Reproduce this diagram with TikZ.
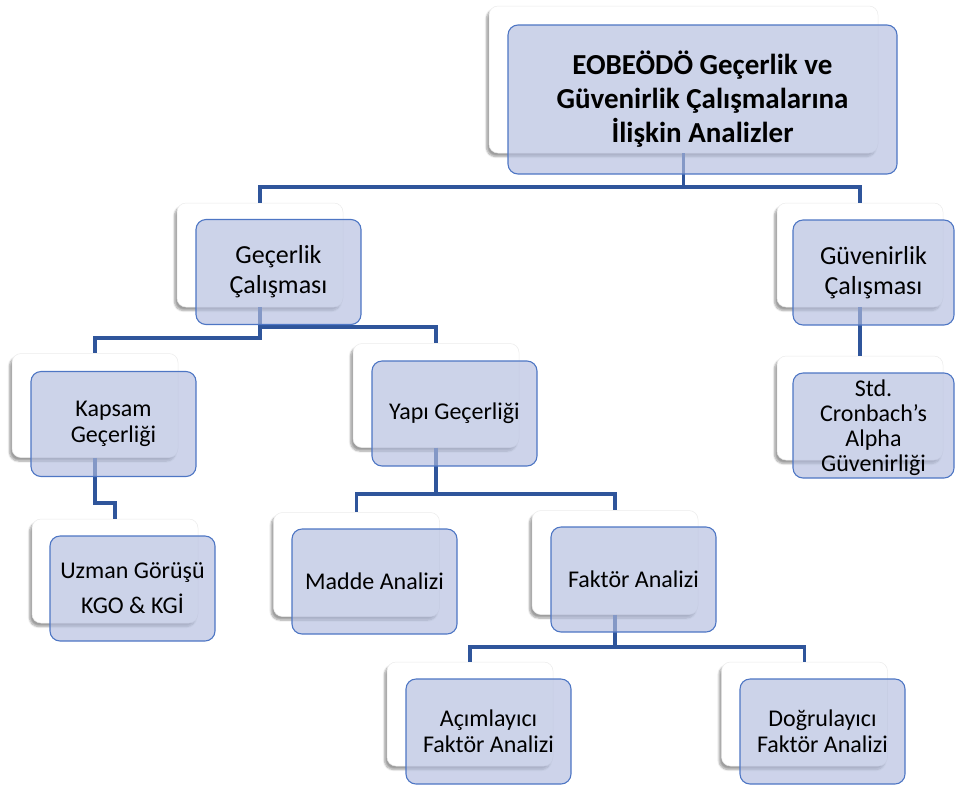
\documentclass[tikz,border=0pt]{standalone}
\usepackage{fontspec}
\setmainfont{Carlito}
\usetikzlibrary{shadows.blur}
\definecolor{connblue}{RGB}{47,85,155}
\definecolor{frontline}{RGB}{78,118,196}
\definecolor{frontfill}{RGB}{178,188,222}
\tikzset{
  backbox/.style={rectangle, rounded corners=9pt, fill=white, draw=black!8, line width=0.5pt,
    blur shadow={shadow xshift=-2.5pt, shadow yshift=-3.5pt, shadow blur steps=7, shadow opacity=38},
    inner sep=0pt, minimum width=166pt, minimum height=104pt},
  frontbox/.style={rectangle, rounded corners=10pt, fill=frontfill, fill opacity=0.65, text opacity=1,
    draw=frontline, draw opacity=1, line width=1.1pt, align=center, inner sep=2pt,
    minimum width=165pt, minimum height=105pt, font=\fontsize{24}{26}\selectfont},
  conn/.style={draw=connblue, line width=3.2pt},
  lvlone/.style={font=\fontsize{26}{30}\selectfont},
  rootfont/.style={font=\fontsize{29}{34}\selectfont\bfseries}
}
\begin{document}
\begin{tikzpicture}[x=1pt,y=-1pt]
\useasboundingbox (0,0) rectangle (955,785);
% back boxes
\node[backbox, minimum width=389pt, minimum height=147pt] (rootB) at (683.5,79.5) {};
\node[backbox] (gecB) at (260,255) {};
\node[backbox] (guvB) at (860,255) {};
\node[backbox] (stdB) at (860,408) {};
\node[backbox] (kapB) at (95,405.5) {};
\node[backbox] (uzB) at (115,571) {};
\node[backbox] (yapB) at (436,395.5) {};
\node[backbox] (madB) at (356.5,564.5) {};
\node[backbox] (fakB) at (615,562.5) {};
\node[backbox] (acB) at (470,714) {};
\node[backbox] (dogB) at (804.5,714) {};
% connectors
\draw[conn] (rootB.south) -- (rootB.south |- 0,187) -| (gecB.north);
\draw[conn] (rootB.south) -- (rootB.south |- 0,187) -| (guvB.north);
\draw[conn] (gecB.south) -- (gecB.south |- 0,338) -| (kapB.north);
\draw[conn] (gecB.south) -- (gecB.south |- 0,327) -| (yapB.north);
\draw[conn] (kapB.south) -- (kapB.south |- 0,503) -| (uzB.north);
\draw[conn] (guvB.south) -- (stdB.north);
\draw[conn] (yapB.south) -- (yapB.south |- 0,494) -| (madB.north);
\draw[conn] (yapB.south) -- (yapB.south |- 0,494) -| (fakB.north);
\draw[conn] (fakB.south) -- (fakB.south |- 0,647) -| (acB.north);
\draw[conn] (fakB.south) -- (fakB.south |- 0,647) -| (dogB.north);
% front boxes
\node[frontbox, rootfont, minimum width=389pt, minimum height=149pt] (root) at (702.5,99.5)
  {EOBEÖDÖ Geçerlik ve\\Güvenirlik Çalışmalarına\\İlişkin Analizler};
\node[frontbox, lvlone] (gec) at (278.5,272) {Geçerlik\\Çalışması};
\node[frontbox, lvlone, minimum width=161pt] (guv) at (873.5,272.5) {Güvenirlik\\Çalışması};
\node[frontbox, minimum width=161pt, font=\fontsize{24}{25}\selectfont] (std) at (873.5,425.5) {\\[-4pt]Std.\\Cronbach’s\\Alpha\\Güvenirliği};
\node[frontbox] (kap) at (113.5,424) {Kapsam\\Geçerliği};
\node[frontbox] (uz) at (132.5,588.5) {Uzman Görüşü\\[9pt]KGO \& KGİ};
\node[frontbox] (yap) at (454.5,413.5) {Yapı Geçerliği};
\node[frontbox] (mad) at (374.5,581.5) {Madde Analizi};
\node[frontbox] (fak) at (633.5,579.5) {Faktör Analizi};
\node[frontbox] (ac) at (488.5,731.5) {Açımlayıcı\\Faktör Analizi};
\node[frontbox] (dog) at (822.5,731.5) {Doğrulayıcı\\Faktör Analizi};
\end{tikzpicture}
\end{document}
